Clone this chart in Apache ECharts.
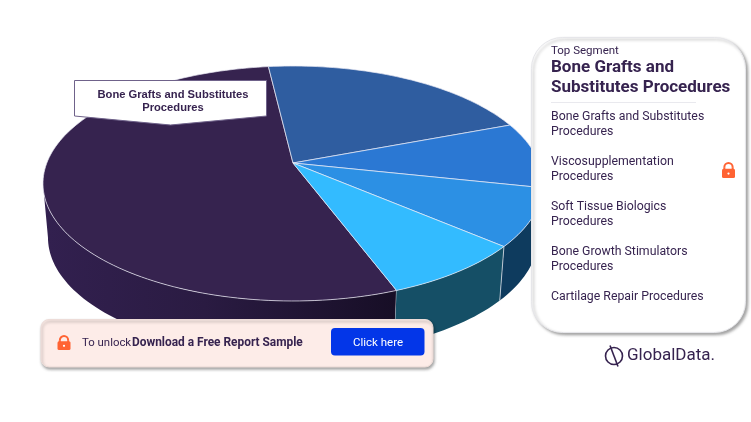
<!DOCTYPE html>
<html>
<head>
<meta charset="utf-8">
<style>html,body{margin:0;padding:0;background:#fff}#chart{width:751px;height:422px}</style>
<script src="https://cdn.jsdelivr.net/npm/echarts@6/dist/echarts.min.js"></script>
</head>
<body>
<div id="chart"></div>
<script>
// Segment shares of procedures, in percent, in clockwise drawing order
const categories = [
  'Bone Grafts and Substitutes Procedures',
  'Viscosupplementation Procedures',
  'Soft Tissue Biologics Procedures',
  'Bone Growth Stimulators Procedures',
  'Cartilage Repair Procedures'
];
const shares = [53.8, 21.1, 9.1, 7.9, 8.0];
const topColors = ['#36234f', '#2f5da0', '#2b78d3', '#2c90e4', '#33bbff'];
const wallColors = ['#1d1230', '#1d3a66', '#123f72', '#0e3b5e', '#154f66'];
const startAngle = 159.4;

const ink = '#36234f';
const bodyFont = 'Roboto, "Noto Sans", sans-serif';
const accent = '#ff6333';

// Perspective disc: the unit circle projected around its hub
const hub = { x: 293, y: 163 };
const persp = { p: 246.2, q: 113.9, k: 0.1745, depth: 54, shrink: 0.98 };
function rim(deg) {
  const a = deg * Math.PI / 180, u = Math.sin(a), v = -Math.cos(a), w = 1 - persp.k * v;
  return [hub.x + persp.p * u / w, hub.y + persp.q * v / w];
}
function floorOf(pt) {
  return [hub.x + (pt[0] - hub.x) * persp.shrink, pt[1] + persp.depth];
}
function arc(from, to) {
  const pts = [], steps = Math.max(2, Math.ceil((to - from) / 1.5));
  for (let i = 0; i <= steps; i++) pts.push(rim(from + (to - from) * i / steps));
  return pts;
}
const total = shares.reduce((s, v) => s + v, 0);
function sliceSpan(index) {
  let a = startAngle;
  for (let i = 0; i < shares.length; i++) {
    const sweep = shares[i] / total * 360;
    if (i === index) return [a, a + sweep];
    a += sweep;
  }
}
// Perspective moves the silhouette to about 100 and 260 degrees; only that arc faces the viewer
function frontSpan(span) {
  for (const base of [0, 360]) {
    const from = Math.max(span[0], base + 100), to = Math.min(span[1], base + 260);
    if (to > from) return [from, to];
  }
  return null;
}
const rows = shares.map((v, i) => [i, v]);

function renderWall(params, api) {
  const i = api.value(0), span = sliceSpan(i), front = frontSpan(span);
  if (!front) return { type: 'group', children: [] };
  const top = arc(front[0], front[1]);
  const fill = i === 0
    ? new echarts.graphic.LinearGradient(48, 0, 396, 0,
        [{ offset: 0, color: '#32204f' }, { offset: 0.45, color: '#2a1b42' }, { offset: 1, color: '#170e26' }], true)
    : wallColors[i];
  const children = [
    { type: 'polygon', shape: { points: top.concat(top.map(floorOf).reverse()) }, style: { fill: fill } }
  ];
  if (front[0] === span[0]) {
    const bottom = floorOf(top[0]);
    children.push({ type: 'line', shape: { x1: top[0][0], y1: top[0][1], x2: bottom[0], y2: bottom[1] },
      style: { stroke: 'rgba(225,225,235,0.75)', lineWidth: 1 } });
  }
  return { type: 'group', children: children };
}
function renderTop(params, api) {
  const i = api.value(0), span = sliceSpan(i);
  return {
    type: 'polygon',
    shape: { points: [[hub.x, hub.y]].concat(arc(span[0], span[1])) },
    style: { fill: topColors[i], stroke: 'rgba(235,235,245,0.7)', lineWidth: 1, lineJoin: 'round' }
  };
}

function lockIcon(x, y, w, h) {
  // x,y is the top-left of the icon; the lower part is the body
  const bodyTop = y + h * 0.42, r = w * 0.32;
  return {
    type: 'group',
    children: [
      { type: 'arc', shape: { cx: x + w / 2, cy: y + r + 1, r: r, startAngle: Math.PI, endAngle: 0 },
        style: { stroke: accent, lineWidth: 2, fill: 'none' } },
      { type: 'line', shape: { x1: x + w / 2 - r, y1: y + r + 1, x2: x + w / 2 - r, y2: bodyTop + 1 }, style: { stroke: accent, lineWidth: 2 } },
      { type: 'line', shape: { x1: x + w / 2 + r, y1: y + r + 1, x2: x + w / 2 + r, y2: bodyTop + 1 }, style: { stroke: accent, lineWidth: 2 } },
      { type: 'rect', shape: { x: x, y: bodyTop, width: w, height: y + h - bodyTop, r: 1.5 }, style: { fill: accent } },
      { type: 'circle', shape: { cx: x + w / 2, cy: bodyTop + (y + h - bodyTop) * 0.52, r: 1.1 }, style: { fill: '#fff' } }
    ]
  };
}
function label(x, y, text, font, color, align) {
  return { type: 'text', x: x, y: y,
    style: { text: text, font: font, fill: color || ink, align: align || 'left', verticalAlign: 'middle', lineHeight: 15 } };
}

// Side panel items, two lines when the name is long
const legendY = [124.5, 169.5, 214.5, 259.5, 297];
const legendItems = categories.map((name, n) => label(551, legendY[n],
  name.length > 27 ? name.replace(' Procedures', '\nProcedures') : name,
  '400 12.3px ' + bodyFont));

const panel = {
  type: 'group',
  children: [
    { type: 'rect', shape: { x: 531.5, y: 37.5, width: 214, height: 295, r: 31 },
      style: { fill: '#fff', stroke: '#e6e6ea', lineWidth: 1, shadowBlur: 3, shadowOffsetX: 2, shadowOffsetY: 2, shadowColor: 'rgba(0,0,0,0.35)' } },
    label(551, 51, 'Top Segment', '400 11.5px ' + bodyFont),
    { type: 'text', x: 551, y: 77.5, style: { text: 'Bone Grafts and\nSubstitutes Procedures', font: '700 17px ' + bodyFont, fill: ink, verticalAlign: 'middle', lineHeight: 19.5 } },
    { type: 'rect', shape: { x: 551, y: 102, width: 145, height: 1 }, style: { fill: '#e9e9ee' } },
    ...legendItems,
    lockIcon(722, 162, 13, 16)
  ]
};

const banner = {
  type: 'group',
  children: [
    { type: 'rect', shape: { x: 41, y: 319.5, width: 392, height: 47.5, r: 8 },
      style: { fill: '#fdece8', stroke: '#eddcd8', lineWidth: 1, shadowBlur: 3, shadowOffsetX: 1, shadowOffsetY: 2, shadowColor: 'rgba(0,0,0,0.35)' } },
    lockIcon(57.5, 335, 13, 15),
    label(82, 343, 'To unlock', '400 11.4px ' + bodyFont),
    label(132, 343, 'Download a Free Report Sample', '700 11.9px ' + bodyFont),
    { type: 'rect', shape: { x: 331, y: 328, width: 93.5, height: 27.5, r: 4 }, style: { fill: '#0336e8' } },
    label(378, 343, 'Click here', '400 11.5px ' + bodyFont, '#fff', 'center')
  ]
};

const callout = {
  type: 'group',
  children: [
    { type: 'polygon', shape: { points: [[74.5, 80.5], [266.5, 80.5], [266.5, 116], [170.5, 125], [74.5, 116]] },
      style: { fill: '#fff', stroke: '#6f628a', lineWidth: 1 } },
    { type: 'text', x: 173, y: 101,
      style: { text: categories[0].replace(' Procedures', '\nProcedures'), font: '700 11.2px "Liberation Sans", Arial, sans-serif',
        fill: ink, align: 'center', verticalAlign: 'middle', lineHeight: 13 } }
  ]
};

const logo = {
  type: 'group',
  children: [
    { type: 'circle', shape: { cx: 614, cy: 356, r: 8.5 }, style: { fill: 'none', stroke: ink, lineWidth: 1.6 } },
    { type: 'line', shape: { x1: 610, y1: 345.5, x2: 618, y2: 366.5 }, style: { stroke: ink, lineWidth: 1.6 } },
    label(627, 356, 'GlobalData.', '400 17px ' + bodyFont)
  ]
};

// Overlays stack above both series
function raise(el, z) {
  el.z = z;
  (el.children || []).forEach(c => raise(c, z));
  return el;
}

const chart = echarts.init(document.getElementById('chart'), null, { renderer: 'canvas' });
chart.setOption({
  backgroundColor: '#fff',
  animation: false,
  series: [
    { type: 'custom', coordinateSystem: 'none', silent: true, z: 1, renderItem: renderWall, data: rows },
    { type: 'custom', coordinateSystem: 'none', silent: true, z: 2, renderItem: renderTop, data: rows }
  ],
  graphic: { z: 100, elements: [raise(callout, 100), raise(panel, 100), raise(banner, 100), raise(logo, 100)] }
});
</script>
</body>
</html>
